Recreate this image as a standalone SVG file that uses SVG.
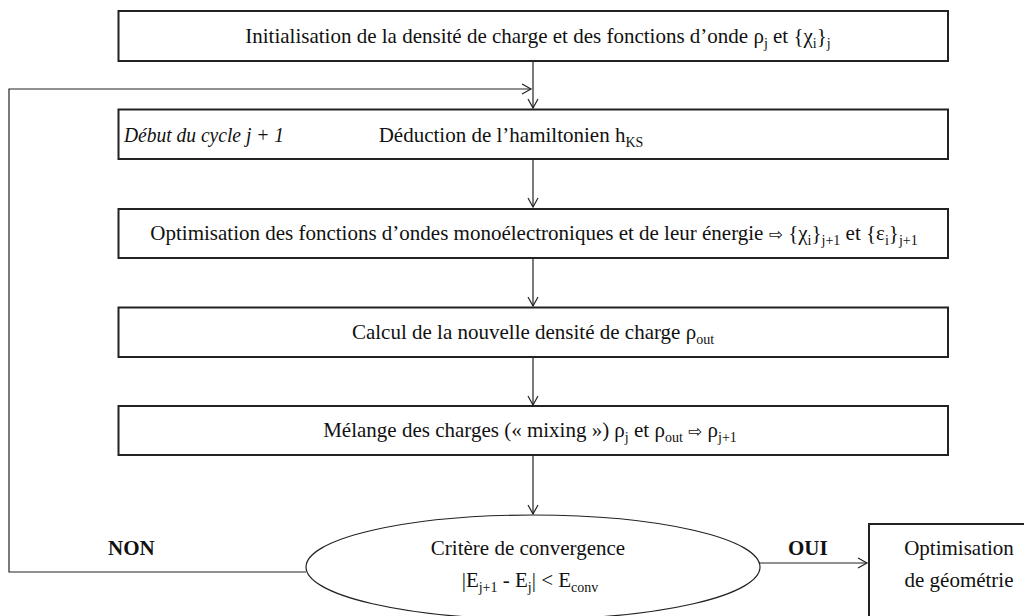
<svg xmlns="http://www.w3.org/2000/svg" width="1024" height="616" viewBox="0 0 1024 616">
<style>
.box{fill:#fff;stroke:#222;stroke-width:2}
.ln{fill:none;stroke:#222;stroke-width:1.2}
text{font-family:"Liberation Serif","Times New Roman",serif;font-size:21px;fill:#111}
.c{text-anchor:middle}
.sub{font-size:14px}
.b{font-weight:bold}
.it{font-style:italic;font-size:20px}
.sym{font-family:"DejaVu Sans",sans-serif;font-size:17px}
</style>
<defs>
<marker id="ah" markerWidth="12" markerHeight="12" refX="10" refY="6" orient="auto" markerUnits="userSpaceOnUse">
<path d="M1,1 L10,6 L1,11" fill="none" stroke="#222" stroke-width="1.2"/>
</marker>
</defs>
<rect width="1024" height="616" fill="#fff"/>
<g id="connectors">
<line class="ln" x1="533" y1="61" x2="533" y2="108" marker-end="url(#ah)"/>
<polyline class="ln" points="306,572 9,572 9,89 531,89" marker-end="url(#ah)"/>
<line class="ln" x1="533" y1="159" x2="533" y2="207" marker-end="url(#ah)"/>
<line class="ln" x1="533" y1="258" x2="533" y2="306" marker-end="url(#ah)"/>
<line class="ln" x1="533" y1="357" x2="533" y2="405" marker-end="url(#ah)"/>
<line class="ln" x1="533" y1="455" x2="533" y2="514" marker-end="url(#ah)"/>
<line class="ln" x1="759" y1="563" x2="867" y2="563" marker-end="url(#ah)"/>
<text class="b" x="108" y="555">NON</text>
<text class="b" x="788" y="555">OUI</text>
</g>
<g id="n1">
<rect class="box" x="118.5" y="11" width="829.5" height="50"/>
<text class="c" x="538" y="43">Initialisation de la densité de charge et des fonctions d’onde ρ<tspan class="sub" dy="5">j</tspan><tspan dy="-5"> et {χ</tspan><tspan class="sub" dy="5">i</tspan><tspan dy="-5">}</tspan><tspan class="sub" dy="5">j</tspan></text>
</g>
<g id="n2">
<rect class="box" x="118.5" y="109.5" width="829.5" height="49.5"/>
<text class="it" x="124" y="142" textLength="160" lengthAdjust="spacingAndGlyphs">Début du cycle j + 1</text>
<text class="c" x="511" y="142">Déduction de l’hamiltonien h<tspan class="sub" dy="5">KS</tspan></text>
</g>
<g id="n3">
<rect class="box" x="118.5" y="209" width="829.5" height="49"/>
<text class="c" x="534" y="240">Optimisation des fonctions d’ondes monoélectroniques et de leur énergie <tspan class="sym">⇨</tspan> {χ<tspan class="sub" dy="5">i</tspan><tspan dy="-5">}</tspan><tspan class="sub" dy="5">j+1</tspan><tspan dy="-5"> et {ε</tspan><tspan class="sub" dy="5">i</tspan><tspan dy="-5">}</tspan><tspan class="sub" dy="5">j+1</tspan></text>
</g>
<g id="n4">
<rect class="box" x="118.5" y="307.5" width="829.5" height="49.5"/>
<text class="c" x="533" y="339">Calcul de la nouvelle densité de charge ρ<tspan class="sub" dy="5">out</tspan></text>
</g>
<g id="n5">
<rect class="box" x="118.5" y="406" width="829.5" height="49"/>
<text class="c" x="530" y="437">Mélange des charges (« mixing ») ρ<tspan class="sub" dy="5">j</tspan><tspan dy="-5"> et ρ</tspan><tspan class="sub" dy="5">out</tspan><tspan dy="-5"> </tspan><tspan class="sym">⇨</tspan> ρ<tspan class="sub" dy="5">j+1</tspan></text>
</g>
<g id="n6">
<ellipse class="ln" cx="533" cy="567" rx="227" ry="52" fill="#fff"/>
<text class="c" x="528" y="555">Critère de convergence</text>
<text class="c" x="530" y="587">|E<tspan class="sub" dy="5">j+1</tspan><tspan dy="-5"> - E</tspan><tspan class="sub" dy="5">j</tspan><tspan dy="-5">| &lt; E</tspan><tspan class="sub" dy="5">conv</tspan></text>
</g>
<g id="n7">
<rect class="box" x="869" y="524" width="200" height="120"/>
<text class="c" x="959" y="555">Optimisation</text>
<text class="c" x="959" y="587">de géométrie</text>
</g>
</svg>
